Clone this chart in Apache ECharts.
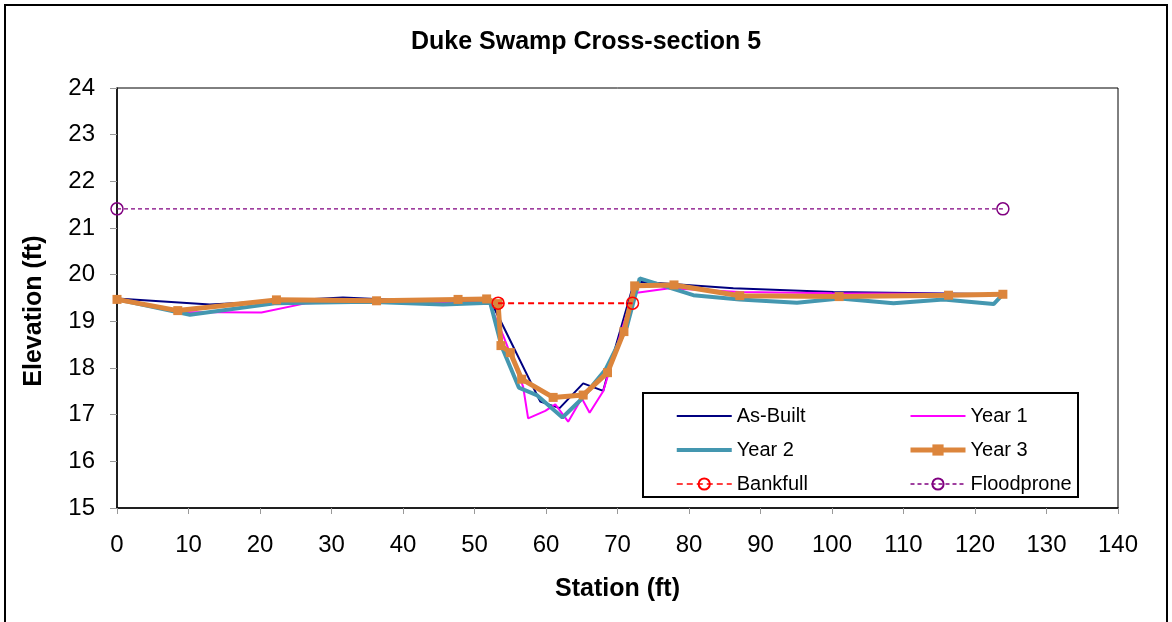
<!DOCTYPE html>
<html>
<head>
<meta charset="utf-8">
<script src="https://cdn.jsdelivr.net/npm/echarts@6/dist/echarts.min.js"></script>
<style>
html,body{margin:0;padding:0;background:#fff;}
#c{width:1172px;height:622px;}
</style>
</head>
<body>
<div id="c"></div>
<script>
var titleText = 'Duke Swamp Cross-section 5';
var xTicks = {min: 0, max: 140, interval: 10};
var yTicks = {min: 15, max: 24, interval: 1};

var asBuilt = [[0,19.49],[13,19.36],[31.6,19.51],[40,19.45],[52.3,19.42],[54,18.9],[59.2,17.28],[61.9,17.14],[65.2,17.67],[68,17.51],[68.6,17.85],[72,19.67],[73.1,19.85],[86.2,19.71],[100.2,19.63],[123.9,19.58]];
var year1 = [[0,19.47],[8.3,19.2],[20.2,19.19],[26.5,19.39],[36,19.43],[45,19.4],[52,19.41],[54,18.7],[56.8,17.6],[57.5,16.92],[59.9,17.08],[61.3,17.22],[63.1,16.85],[65,17.35],[66.1,17.04],[68,17.5],[70.3,18.67],[72.2,19.6],[77.3,19.71],[87.1,19.63],[100,19.6],[123.9,19.58]];
var year2 = [[0,19.47],[10.2,19.14],[22.3,19.39],[35,19.42],[45.6,19.36],[52.2,19.4],[53.8,18.46],[56.2,17.58],[58.7,17.42],[62.3,16.94],[64.8,17.31],[68.3,17.96],[71.3,18.88],[73.1,19.92],[80.6,19.56],[87.1,19.47],[95.1,19.4],[101.1,19.49],[108.6,19.39],[115.6,19.47],[122.6,19.37],[123.9,19.58]];
var year3 = [[0,19.47],[8.5,19.23],[22.3,19.46],[36.3,19.44],[47.7,19.47],[51.7,19.48],[53.3,19.38],[53.7,18.48],[55,18.33],[56.6,17.76],[61,17.37],[65.2,17.42],[68.6,17.9],[70.9,18.78],[72.4,19.76],[77.9,19.78],[87.1,19.55],[101,19.53],[116.3,19.56],[123.9,19.58]];
var bankfull = [[53.3,19.39],[72.1,19.39]];
var floodprone = [[0,21.41],[123.9,21.41]];

var FONT = '"Liberation Sans", Arial, sans-serif';
var chart = echarts.init(document.getElementById('c'));
var legendText = {fontFamily: FONT, fontSize: 20, color: '#000', lineHeight: 22};
var thin = 'path://M0,0h55v2h-55z';
var thick = 'path://M0,0h55v4h-55z';
chart.setOption({
  animation: false,
  backgroundColor: '#fff',
  title: {text: titleText, left: 'center', top: 25, textStyle: {fontFamily: FONT, fontSize: 25, fontWeight: 'bold', color: '#000'}},
  grid: {left: 117, right: 54, top: 88, bottom: 114, show: true, borderColor: '#000', borderWidth: 1, backgroundColor: '#fff'},
  xAxis: {
    type: 'value', min: xTicks.min, max: xTicks.max, interval: xTicks.interval,
    name: 'Station (ft)', nameLocation: 'middle', nameGap: 69,
    nameTextStyle: {fontFamily: FONT, fontSize: 25, fontWeight: 'bold', color: '#000'},
    axisLine: {show: true, onZero: false, lineStyle: {color: '#000', width: 1.5}},
    axisTick: {show: true, inside: false, length: 6, lineStyle: {color: '#999'}},
    axisLabel: {fontFamily: FONT, fontSize: 24, color: '#000', margin: 25},
    splitLine: {show: false}
  },
  yAxis: {
    type: 'value', min: yTicks.min, max: yTicks.max, interval: yTicks.interval,
    name: 'Elevation (ft)', nameLocation: 'middle', nameGap: 70, nameRotate: 90,
    nameTextStyle: {fontFamily: FONT, fontSize: 25, fontWeight: 'bold', color: '#000', padding: [0, 26, 0, 0]},
    axisLine: {show: true, lineStyle: {color: '#000', width: 1.5}},
    axisTick: {show: true, inside: false, length: 7, lineStyle: {color: '#999'}},
    axisLabel: {fontFamily: FONT, fontSize: 24, color: '#000', margin: 22},
    splitLine: {show: false}
  },
  legend: [
    {data: [{name: 'As-Built', icon: thin}, {name: 'Year 2', icon: thick}, {name: 'Bankfull', lineStyle: {width: 1.5}}], orient: 'vertical', left: 671, top: 400, itemWidth: 55, itemHeight: 14, itemGap: 12, textStyle: legendText},
    {data: [{name: 'Year 1', icon: thin}, {name: 'Year 3', lineStyle: {width: 5}}, {name: 'Floodprone', lineStyle: {width: 1.5}}], orient: 'vertical', left: 903, top: 400, itemWidth: 55, itemHeight: 14, itemGap: 12, textStyle: legendText}
  ],
  graphic: [
    {type: 'rect', shape: {x: 5, y: 5, width: 1162, height: 640}, style: {fill: 'none', stroke: '#000', lineWidth: 2}, silent: true, z: 100},
    {type: 'rect', shape: {x: 643, y: 393, width: 435, height: 104}, style: {fill: '#fff', stroke: '#000', lineWidth: 2}, silent: true, z: 0}
  ],
  series: [
    {name: 'As-Built', type: 'line', data: asBuilt, showSymbol: false, symbol: 'none', lineStyle: {color: '#000080', width: 2}, itemStyle: {color: '#000080'}, z: 2},
    {name: 'Year 1', type: 'line', data: year1, showSymbol: false, symbol: 'none', lineStyle: {color: '#FF00FF', width: 2}, itemStyle: {color: '#FF00FF'}, z: 3},
    {name: 'Year 2', type: 'line', data: year2, showSymbol: false, symbol: 'none', lineStyle: {color: '#4497B0', width: 4}, itemStyle: {color: '#4497B0'}, z: 4},
    {name: 'Year 3', type: 'line', data: year3, symbol: 'rect', symbolSize: 9, lineStyle: {color: '#DC853C', width: 5}, itemStyle: {color: '#DC853C'}, z: 5},
    {name: 'Bankfull', type: 'line', data: bankfull, symbol: 'circle', symbolSize: 12, lineStyle: {color: '#FF0000', width: 2, type: [6, 4]}, itemStyle: {color: 'rgba(255,255,255,0)', borderColor: '#FF0000', borderWidth: 1.5}, z: 6},
    {name: 'Floodprone', type: 'line', data: floodprone, symbol: 'circle', symbolSize: 12, lineStyle: {color: '#800080', width: 1.2, type: [4, 3]}, itemStyle: {color: 'rgba(255,255,255,0)', borderColor: '#800080', borderWidth: 1.5}, z: 6}
  ]
});
</script>
</body>
</html>
